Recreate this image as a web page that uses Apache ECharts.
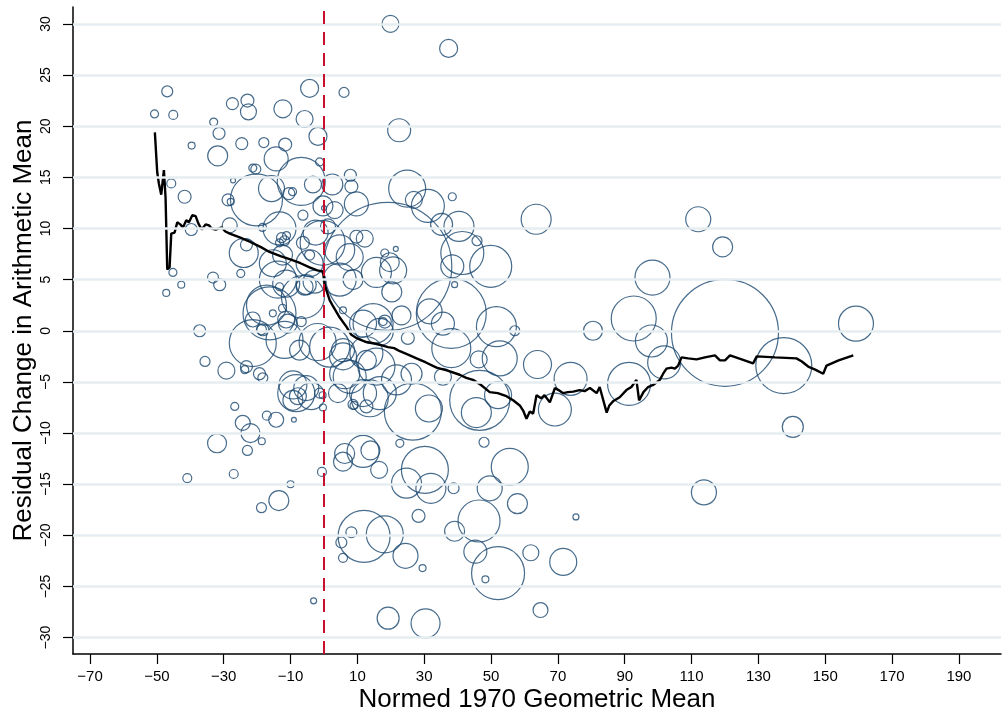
<!DOCTYPE html>
<html>
<head>
<meta charset="utf-8">
<script src="https://cdn.jsdelivr.net/npm/echarts@6.0.0/dist/echarts.min.js"></script>
<style>
  html, body { margin: 0; padding: 0; background: #fff; }
  #chart { width: 1002px; height: 715px; }
</style>
</head>
<body>
<div id="chart"></div>
<script>
  // tick positions
  const xTicks = [-70, -50, -30, -10, 10, 30, 50, 70, 90, 110, 130, 150, 170, 190]
  const yTicks = [-30, -25, -20, -15, -10, -5, 0, 5, 10, 15, 20, 25, 30]

  // [normed 1970 geometric mean, residual change, weight]
  const bubbles = [
    [-50.7,21.2,16],[-46.9,23.4,30],[-45.1,21.1,20],[-39.6,18.1,12],[-33.0,20.4,16],[-31.4,19.3,36],
    [-27.4,22.2,36],[-22.9,22.5,42],[-22.6,21.4,64],[-12.3,21.7,81],[-5.8,20.7,72],[-4.3,23.7,81],
    [6.0,23.3,25],[-24.6,18.3,36],[-18.0,18.4,25],[-11.6,18.2,42],[-1.8,19.0,81],[-31.8,17.1,100],
    [-14.3,16.8,144],[-21.3,15.9,16],[-20.4,15.8,25],[-1.3,16.5,16],[-27.2,14.7,6],[-45.7,14.4,20],
    [-41.7,13.1,42],[-20.2,12.8,676],[-6.8,14.6,576],[-3.3,14.3,72],[2.5,14.3,110],[7.9,15.2,36],
    [8.2,14.1,42],[-15.7,13.9,169],[-10.5,13.4,36],[-9.4,13.6,16],[-28.7,12.8,36],[-27.9,12.6,12],
    [9.7,12.4,144],[-13.3,10.0,272],[-18.4,10.1,16],[-28.2,10.3,56],[-39.7,9.9,36],[-2.5,9.6,156],
    [0,12.0,6],[-0.3,12.2,100],[3.2,11.8,72],[1.2,10.2,56],[4.7,7.9,225],[-0.4,8.6,506],
    [7.7,7.2,182],[-24.0,7.6,210],[-23.2,8.4,36],[-12.7,9.1,25],[-11.8,8.8,25],[-13.3,8.6,16],
    [-11.2,9.3,16],[-6.3,8.6,42],[-12.4,7.4,100],[-15.3,6.6,182],[-4.3,6.6,182],[-4.3,7.4,25],
    [-45.2,5.7,16],[-33.2,5.2,30],[-31.2,4.5,36],[-24.9,5.6,16],[-42.7,4.5,12],[-47.2,3.7,12],
    [-6.3,11.3,25],[9.7,9.2,42],[12.2,9.0,72],[15.7,5.7,225],[18.2,7.6,16],[21.5,8.0,6],
    [19.7,6.7,90],[20.3,3.8,100],[19.1,6.3,4096],[19.9,30.0,72],[37.3,27.6,81],[22.5,19.6,132],
    [24.9,13.9,342],[26.9,12.8,72],[31.1,12.2,272],[38.4,13.1,16],[35.2,10.4,121],[40.4,10.2,225],
    [41.4,7.6,462],[45.8,8.8,25],[38.4,6.3,132],[49.9,6.3,441],[63.5,10.9,225],[39.1,4.5,9],
    [-13.8,5.0,342],[-5.8,4.3,72],[-2.8,4.8,132],[4.7,5.0,272],[8.7,5.0,100],[20.7,5.9,182],
    [-16.3,1.7,702],[-13.3,4.3,16],[-15.3,1.7,12],[-12.4,2.2,16],[-18.7,0.1,25],[-21.3,-1.2,552],
    [-11.3,1.1,72],[-6.8,0.9,25],[-6.3,3.3,462],[-17.2,2.5,400],[-21.3,1.1,56],[-18.3,0.1,36],
    [-10.8,0.7,90],[-11.8,-0.9,342],[-7.3,-1.9,100],[-11.3,4.6,182],[-5.3,4.5,100],[-1.9,-1.1,342],
    [1.7,-1.6,400],[5.7,-1.9,132],[6.2,-4.2,225],[11.7,-6.1,182],[8.7,-7.2,25],[5.7,2.0,12],
    [11.7,0.7,182],[16.7,-0.1,182],[17.7,0.9,16],[12.7,-2.9,100],[-23.2,-3.5,36],[-23.7,-3.8,16],
    [-29.2,-3.9,72],[-19.3,-4.2,36],[-18.3,-4.6,25],[-8.3,-6.1,342],[-3.8,-6.4,182],[-9.3,-6.8,100],
    [-1.3,-6.1,25],[-0.4,-6.3,12],[4.2,-6.1,90],[16.7,-6.1,272],[-26.7,-7.4,16],[-0.3,-7.5,12],
    [-37.2,0.0,36],[-35.6,-3.0,25],[-9.3,-5.3,196],[-5.3,-5.6,156],[-7.8,-6.4,72],
    [38.1,1.7,1225],[31.6,1.9,156],[35.6,0.7,132],[51.6,0.4,400],[57.1,0.0,25],[38.1,-1.7,380],
    [52.6,-2.7,306],[46.3,-2.8,72],[63.9,-3.3,196],[80.5,0.0,90],[73.8,-4.7,272],[69.1,-7.7,272],
    [46.6,-6.8,900],[45.6,-8.0,225],[52.1,-6.3,182],[35.6,-4.5,72],[31.4,-7.6,182],[26.6,-7.9,812],
    [12.7,-7.4,42],[9.0,-7.3,16],[13.7,-6.6,342],[21.7,-4.8,225],[26.2,-4.2,110],[15.7,-3.5,342],
    [12.7,-2.2,272],[7.7,-4.5,272],[5.7,-2.5,182],[14.7,0.7,400],[23.2,1.5,90],[25.1,-0.7,42],
    [18.2,0.9,42],[22.7,-11.0,16],[47.9,-10.9,25],[11.7,-11.8,256],[13.9,-11.7,90],[6.2,-12.0,100],
    [5.7,-12.8,90],[16.5,-13.6,72],[-0.6,-13.8,20],[30.2,-13.6,552],[24.7,-14.9,225],[32.0,-15.4,225],
    [38.8,-15.4,30],[55.6,-13.3,342],[49.6,-15.4,156],[57.9,-16.9,100],[28.3,-18.1,42],[46.4,-18.6,441],
    [39.1,-19.6,100],[8.2,-19.7,30],[5.2,-20.7,30],[5.7,-22.2,20],[12.0,-20.1,676],[18.2,-19.9,342],
    [24.4,-22.0,156],[29.5,-23.2,12],[45.3,-21.6,132],[52.1,-23.7,702],[48.3,-24.3,12],[61.9,-21.7,64],
    [71.6,-22.6,182],[75.4,-18.2,9],[-3.1,-26.4,9],[19.2,-28.1,121],[30.4,-28.6,210],[64.8,-27.3,56],
    [-40.9,-14.4,20],[-27.0,-14.0,20],[-18.7,-17.3,25],[-13.5,-16.6,100],[-10.0,-15.0,12],[-32.0,-11.0,90],
    [-24.3,-9.0,56],[-22.0,-10.0,90],[-18.6,-10.8,12],[-22.9,-11.7,25],[-17.1,-8.3,20],[-14.3,-8.7,56],
    [-9.0,-8.7,6],
    [112.0,10.9,156],[119.3,8.2,100],[98.3,5.2,306],[92.7,1.2,506],[98.0,-1.0,256],[101.8,-3.1,272],
    [120.0,-0.2,2862],[137.6,-3.4,784],[159.2,0.7,306],[91.3,-5.2,462],[140.3,-9.4,110],[113.7,-15.8,156]
  ]

  // running mean
  const trendLine = [
    [-50.6,19.4],[-49.9,15.5],[-49.4,14.4],[-48.7,13.3],[-47.9,15.7],[-47.4,13.0],[-46.9,6.0],[-46.2,6.2],
    [-45.7,9.5],[-44.7,9.6],[-43.9,10.6],[-43.0,10.4],[-42.2,10.1],[-41.2,10.8],[-40.4,10.6],[-39.4,11.3],
    [-38.4,11.2],[-37.6,10.5],[-36.6,9.9],[-35.4,10.4],[-34.4,10.3],[-33.6,10.0],[-32.4,9.9],[-31.4,10.0],
    [-30.6,10.1],[-29.5,9.7],[-28.2,9.5],[-25,9.1],[-22.2,8.7],[-19,8.2],[-16.3,7.7],[-13,7.3],[-10.3,7.0],
    [-7,6.6],[-4.3,6.2],[-2,5.9],[-0.3,5.8],[0.2,4.6],[0.7,4.0],[1.7,3.0],[2.7,2.4],[4.5,1.4],[6.7,0.4],
    [8.2,-0.4],[9.7,-0.7],[11,-0.9],[12.7,-1.1],[16,-1.3],[19.2,-1.6],[21,-1.7],[22.7,-2.0],[25,-2.3],
    [27.7,-2.7],[30.5,-3.1],[33.7,-3.6],[37,-3.9],[40.6,-4.3],[42.6,-4.6],[44.6,-4.8],[47,-5.3],[49.6,-6.0],
    [52,-6.1],[54.6,-6.4],[56.6,-6.8],[58.6,-7.3],[59.6,-7.8],[60.6,-8.6],[61.6,-7.9],[62.6,-8.1],[63.6,-6.3],
    [65,-6.6],[66,-6.3],[67.6,-7.0],[69.1,-5.6],[70.2,-5.8],[71.6,-6.1],[73.0,-6.0],[74.6,-5.95],[76.5,-5.8],
    [78,-5.9],[79.6,-5.6],[81.6,-6.1],[82.5,-5.5],[84.6,-8.0],[85.4,-7.3],[86.5,-6.9],[88.5,-6.5],[90.5,-5.8],
    [92,-5.5],[93.5,-4.8],[94.3,-6.8],[95.6,-6.0],[97.0,-5.5],[98.5,-5.3],[100.5,-4.8],[101.5,-4.2],[102.5,-3.7],
    [104,-3.6],[105.0,-3.7],[106,-3.4],[107.0,-2.6],[109,-2.7],[111.5,-2.8],[114,-2.6],[117.0,-2.4],[118.5,-2.9],
    [120,-2.9],[121.5,-2.4],[125,-2.8],[128.4,-3.2],[129.5,-2.5],[135,-2.6],[141.4,-2.7],[143,-3.0],[144.9,-3.5],
    [147,-3.8],[149.4,-4.2],[150.4,-3.4],[154,-2.9],[158.4,-2.4]
  ]

  const fontFamily = '"Liberation Sans", Arial, Helvetica, sans-serif'
  const minus = v => String(v).replace('-', '\u2212')

  let chart = echarts.init(document.getElementById('chart'))
  let option = {
    animation: false,
    textStyle: { fontFamily: fontFamily },
    grid: { left: 73, right: 1, top: 7, bottom: 61, outerBoundsMode: 'none', containLabel: false },
    xAxis: {
      type: 'value',
      min: -75.1,
      max: 202.6,
      name: 'Normed 1970 Geometric Mean',
      nameLocation: 'middle',
      nameGap: 33,
      nameMoveOverlap: false,
      nameTextStyle: { fontSize: 26, color: '#000', fontFamily: fontFamily },
      axisLine: { onZero: false, lineStyle: { color: '#000', width: 1.5 } },
      axisTick: { customValues: xTicks, length: 10, lineStyle: { color: '#000', width: 1.2 } },
      axisLabel: { customValues: xTicks, formatter: minus, fontSize: 15, margin: 15, color: '#000' },
      splitLine: { show: false }
    },
    yAxis: {
      type: 'value',
      min: -31.6,
      max: 31.65,
      name: 'Residual Change in Arithmetic Mean',
      nameLocation: 'middle',
      nameGap: 36,
      nameMoveOverlap: false,
      nameTextStyle: { fontSize: 26, color: '#000', fontFamily: fontFamily },
      axisLine: { show: true, onZero: false, lineStyle: { color: '#000', width: 1.5 } },
      axisTick: { customValues: yTicks, length: 10, lineStyle: { color: '#000', width: 1.2 } },
      axisLabel: { customValues: yTicks, formatter: minus, fontSize: 14, margin: 20, rotate: 90, color: '#000' },
      splitLine: { show: false }
    },
    series: [
      {
        // horizontal grid lines
        type: 'line',
        data: [],
        z: 1,
        markLine: {
          silent: true,
          symbol: ['none', 'none'],
          label: { show: false },
          lineStyle: { color: '#e6eef1', width: 2.5, type: 'solid' },
          data: yTicks.map(v => ({ yAxis: v }))
        }
      },
      {
        type: 'scatter',
        z: 2,
        data: bubbles,
        symbol: 'circle',
        symbolSize: v => 2 * Math.sqrt(v[2]),
        itemStyle: { color: 'rgba(0,0,0,0)', borderColor: '#1a476f', borderWidth: 1.2 },
        emphasis: { disabled: true }
      },
      {
        type: 'line',
        z: 3,
        data: trendLine,
        showSymbol: false,
        lineStyle: { color: '#000', width: 2.4 },
        emphasis: { disabled: true }
      },
      {
        // reference line at zero
        type: 'line',
        data: [],
        z: 4,
        markLine: {
          silent: true,
          symbol: ['none', 'none'],
          label: { show: false },
          lineStyle: { color: '#c8102e', width: 2, type: [13, 8] },
          data: [{ xAxis: 0 }]
        }
      }
    ]
  }
  chart.setOption(option)
</script>
</body>
</html>
